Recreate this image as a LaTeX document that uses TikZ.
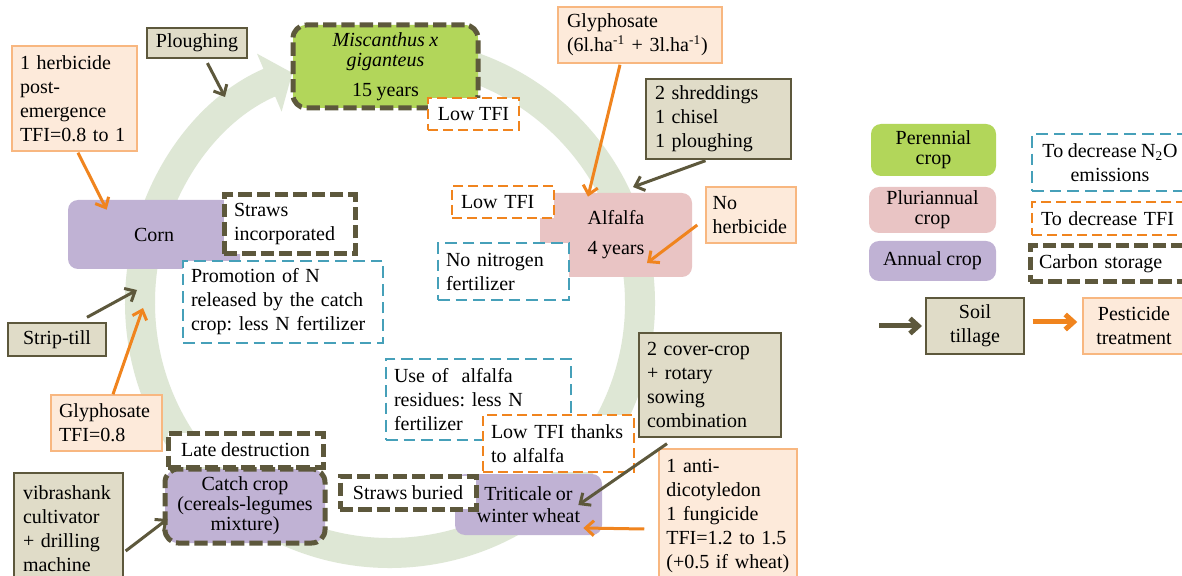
\documentclass[tikz,border=0pt]{standalone}
\usepackage{fontspec}
\setmainfont{Liberation Serif}[WordSpace=0.9]
\usetikzlibrary{arrows.meta,calc}
\definecolor{cOlive}{RGB}{93,88,60}
\definecolor{cTan}{RGB}{224,220,200}
\definecolor{cPeach}{RGB}{253,234,218}
\definecolor{cPeachB}{RGB}{248,183,128}
\definecolor{cOrange}{RGB}{240,132,30}
\definecolor{cTeal}{RGB}{70,160,185}
\definecolor{cGreen}{RGB}{178,214,90}
\definecolor{cPink}{RGB}{233,196,196}
\definecolor{cPurple}{RGB}{192,178,212}
\definecolor{cRing}{RGB}{222,231,213}
\frenchspacing
\tikzset{
  base/.style={font=\fontsize{12}{14.4}\selectfont, inner sep=0pt, text=black, align=center},
  tanbox/.style={base, fill=cTan, draw=cOlive, line width=0.8pt},
  peachbox/.style={base, fill=cPeach, draw=cPeachB, line width=0.9pt},
  orbox/.style={base, fill=white, draw=cOrange, line width=1.6pt, dash pattern=on 6pt off 3pt},
  tealbox/.style={base, fill=white, draw=cTeal, line width=1.6pt, dash pattern=on 7pt off 3.6pt},
  cbox/.style={base, fill=white, draw=cOlive, line width=3pt, dash pattern=on 8pt off 3pt},
  perbox/.style={base, fill=cGreen, rounded corners=6pt},
  plubox/.style={base, fill=cPink, rounded corners=6pt},
  annbox/.style={base, fill=cPurple, rounded corners=6pt},
  wh/.style 2 args={minimum width=#1, minimum height=#2},
  lt/.style n args={3}{align=left, text width=#1, inner xsep=#2, minimum height=#3},
  oarr/.style={draw=cOrange, line width=1.8pt, -{Straight Barb[length=5pt,width=9pt]}},
  garr/.style={draw=cOlive, line width=1.8pt, -{Straight Barb[length=5pt,width=9pt]}},
  ringarrow/.style={draw=cRing, line width=18pt, -{Triangle[length=15pt,width=37pt]}},
}
\begin{document}
\begin{tikzpicture}[x=0.6pt,y=-0.6pt]
\useasboundingbox (0,0) rectangle (1182,576);
\clip (0,0) rectangle (1182,576);
\fill[white] (0,0) rectangle (1182,576);

% cycle ring
\draw[ringarrow] ($(390,303)+(-95:250)$) arc[start angle=-95,end angle=247,radius=250];

% crops
\node[base, fill=cGreen, draw=cOlive, line width=3pt, dash pattern=on 8pt off 3pt, rounded corners=8pt, wh={111pt}{49.8pt}] (misc) at (385.5,66.5)
  {\textit{Miscanthus x}\\[-2.4pt]\textit{giganteus}\\[3.6pt]15 years};
\node[orbox, wh={54.6pt}{19.2pt}] (lowA) at (473.5,114) {Low TFI};

\node[plubox, wh={91.2pt}{50.4pt}] (alfalfa) at (616,235) {Alfalfa\\[3.6pt]4 years};
\node[orbox, lt={50.4pt}{5.4pt}{19.2pt}] (lowB) at (503,202) {Low TFI};
\node[tealbox, lt={69pt}{4.8pt}{34.2pt}] (nonit) at (503.5,271.5) {No nitrogen\\fertilizer};

\node[annbox, wh={103.2pt}{41.4pt}] (corn) at (154,234.5) {Corn};
\node[cbox, lt={66.6pt}{6pt}{35.4pt}] (strawsA) at (289.5,224.5) {Straws\\incorporated};
\node[tealbox, lt={110.4pt}{4.8pt}{49.2pt}] (promo) at (283,302) {Promotion of N\\released by the catch\\crop: less N fertilizer};

\node[base, fill=cPurple, draw=cOlive, line width=3pt, dash pattern=on 8pt off 3pt, rounded corners=8pt, wh={96pt}{44.4pt}] (catch) at (245,506)
  {Catch crop\\[-2.4pt](cereals-legumes\\[-2.4pt]mixture)};
\node[cbox, wh={93pt}{20.4pt}] (late) at (245.5,450) {Late destruction};

\node[annbox, wh={88.2pt}{36.6pt}] (trit) at (528.5,504.5) {Triticale or\\[-1.2pt]winter wheat};
\node[cbox, wh={81.6pt}{19.8pt}] (strawsB) at (408,492.5) {Straws buried};
\node[tealbox, lt={101.4pt}{4.8pt}{48.6pt}] (useof) at (478.5,399.5) {Use of\ \ alfalfa\\residues: less N\\fertilizer};
\node[orbox, lt={81pt}{4.8pt}{34.2pt}] (lowC) at (558.5,443.5) {Low TFI thanks\\to alfalfa};

% practices
\node[tanbox, wh={60pt}{18pt}] (plough) at (197,43) {Ploughing};
\node[peachbox, lt={87.6pt}{5.4pt}{33.6pt}] (glyA) at (640,35) {Glyphosate\\(6l.ha\textsuperscript{-1} + 3l.ha\textsuperscript{-1})};
\node[tanbox, lt={76.2pt}{5.4pt}{48pt}] (tilA) at (718.5,119) {2 shreddings\\1 chisel\\1 ploughing};
\node[peachbox, lt={46pt}{4pt}{33.6pt}] (noherb) at (751,215) {No\\herbicide};
\node[peachbox, lt={65.4pt}{4.8pt}{63pt}] (herbA) at (74.5,98.5) {1 herbicide\\post-\\emergence\\TFI=0.8 to 1};
\node[tanbox, wh={58.8pt}{19.8pt}] (strip) at (57,339.5) {Strip-till};
\node[peachbox, lt={57pt}{4.8pt}{33.6pt}] (glyB) at (106.5,423) {Glyphosate\\TFI=0.8};
\node[tanbox, lt={54.6pt}{5.4pt}{67.2pt}] (vibra) at (68.5,529) {vibrashank\\cultivator\\+ drilling\\machine};
\node[tanbox, lt={75.6pt}{4.8pt}{62.4pt}] (cover) at (710,385) {2 cover-crop\\+ rotary\\sowing\\combination};
\node[peachbox, lt={74pt}{4.4pt}{80.4pt}] (antid) at (728,516) {1 anti-\\dicotyledon\\1 fungicide\\TFI=1.2 to 1.5\\(+0.5 if wheat)};

% connectors
\coordinate (pA) at (225,97);
\coordinate (tE) at (633,187);
\coordinate (sE) at (137,290);
\coordinate (gE) at (143,308);
\draw[garr, shorten <=3pt] (plough) -- (pA);
\draw[oarr] ($(glyA.south)+(-20,1)$) -- ($(alfalfa.north)+(-28,4)$);
\draw[garr] ($(tilA.south)+(-13,1)$) -- (tE);
\draw[oarr] ($(noherb.west)+(-8,10)$) -- ($(alfalfa.center)+(31,28)$);
\draw[oarr] ($(herbA.south)+(3.5,1)$) -- ($(corn.north west)+(39,10)$);
\draw[garr] ($(strip.north)+(30,-5)$) -- (sE);
\draw[oarr] ($(glyB.north)+(6.5,0)$) -- (gE);
\draw[garr] ($(vibra.east)+(2,22)$) -- ($(catch.west)+(5,13)$);
\draw[garr] ($(cover.south)+(-43,6)$) -- ($(trit.east)+(-24,0.5)$);
\draw[oarr] ($(antid.west)+(-14,13)$) -- ($(trit.east)+(-19,23.5)$);

% legend
\node[perbox, wh={75pt}{31.2pt}] (lper) at (933.5,150) {Perennial\\[-2.4pt]crop};
\node[plubox, wh={76.2pt}{27.6pt}] (lplu) at (932.5,210) {Pluriannual\\[-2.4pt]crop};
\node[annbox, wh={76.2pt}{24pt}] (lann) at (932.5,261) {Annual crop};
\node[tealbox, wh={93.6pt}{34.2pt}] (ln2o) at (1110,162.5) {To decrease N\textsubscript{2}O\\emissions};
\node[orbox, lt={84pt}{5.4pt}{19.8pt}] (ltfi) at (1111,218.5) {To decrease TFI};
\node[cbox, lt={85.2pt}{5.4pt}{21.6pt}] (lcarb) at (1110,264) {Carbon storage};
\node[tanbox, wh={58.8pt}{33.6pt}] (soil) at (975,326) {Soil\\tillage};
\node[peachbox, wh={61.2pt}{33.6pt}] (pest) at (1134,326) {Pesticide\\treatment};
\coordinate (lg) at (879,326);
\draw[garr, line width=3pt, shorten >=2pt] (lg) -- (soil.west);
\draw[oarr, line width=3pt] ($(soil.east)+(8,-4)$) -- ($(pest.west)+(-5,-4)$);
\end{tikzpicture}
\end{document}
